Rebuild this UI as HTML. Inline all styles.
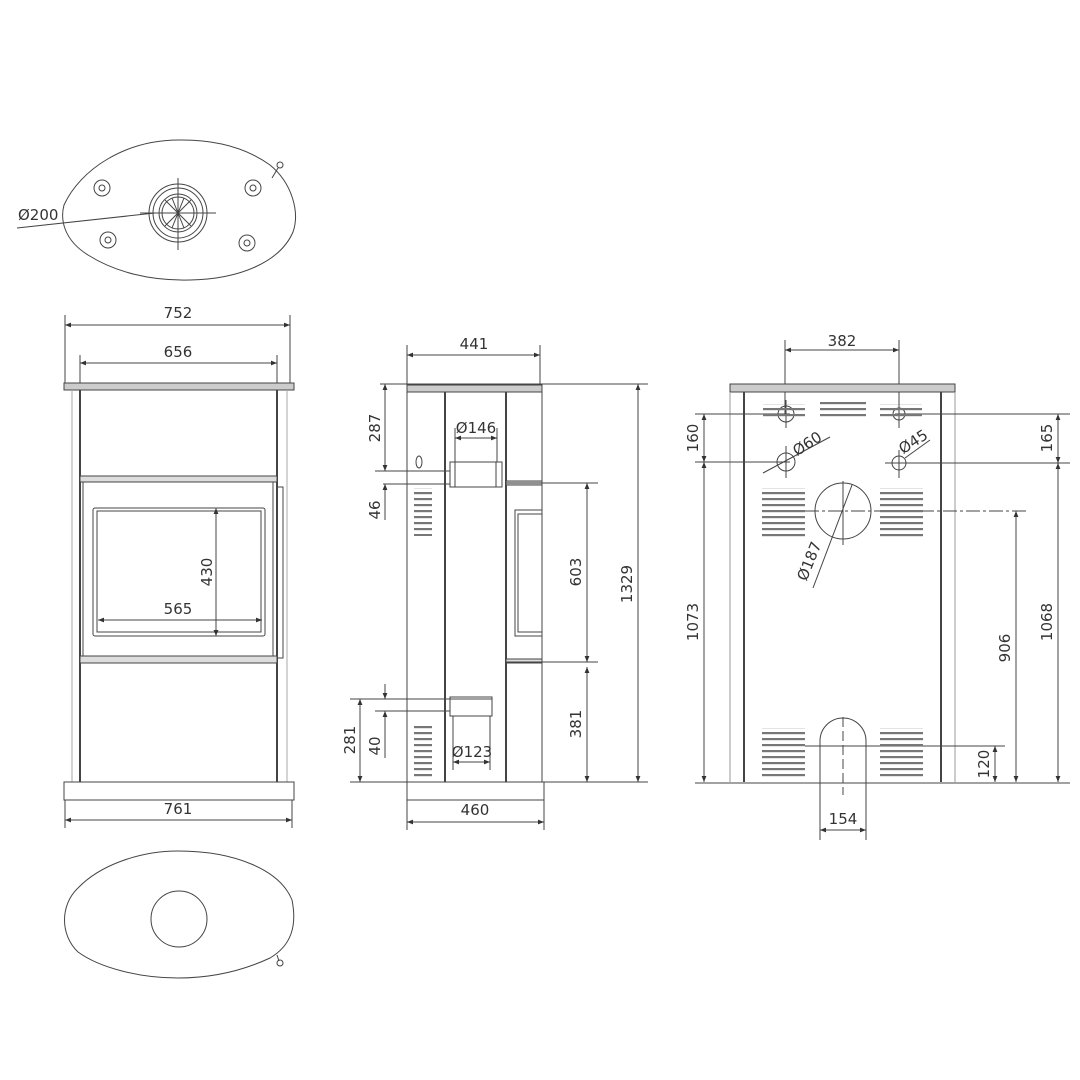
<!DOCTYPE html>
<html><head><meta charset="utf-8"><style>
html,body{margin:0;padding:0;background:#fff;}
svg{display:block;}
text{font-family:"DejaVu Sans","Liberation Sans",sans-serif;font-size:15px;fill:#333;}
</style></head><body>
<svg width="1080" height="1080" viewBox="0 0 1080 1080" xmlns="http://www.w3.org/2000/svg">
<defs>
<marker id="a" viewBox="0 0 10 10" refX="10" refY="5" markerWidth="8" markerHeight="6" orient="auto-start-reverse"><path d="M0,1 L10,5 L0,9 z" fill="#333"/></marker>
<pattern id="v" width="10" height="6" patternUnits="userSpaceOnUse"><rect x="0" y="0" width="10" height="2.2" fill="#777"/></pattern>
</defs>
<g fill="none" stroke="#444" stroke-width="1">
<!-- TOP VIEW -->
<path transform="translate(360,0) scale(-1,1)" d="M178,140 C235,139 280,170 296,205 C300,220 296,240 272,255 C245,272 210,281 170,280 C120,279 80,262 67,232 C60,212 68,183 90,165 C115,147 145,140 178,140 Z"/>
<line x1="272" y1="178" x2="278" y2="168"/><circle cx="280" cy="165" r="3"/>
<circle cx="178" cy="213" r="29"/><circle cx="178" cy="213" r="25"/><circle cx="178" cy="213" r="19"/><circle cx="178" cy="213" r="16"/>
<line x1="178" y1="178" x2="178" y2="250"/><line x1="140" y1="213" x2="216" y2="213"/>
<line x1="165" y1="200" x2="191" y2="226"/><line x1="191" y1="200" x2="165" y2="226"/><line x1="172" y1="198" x2="184" y2="228"/><line x1="184" y1="198" x2="172" y2="228"/>
<circle cx="102" cy="188" r="8"/><circle cx="102" cy="188" r="3"/>
<circle cx="253" cy="188" r="8"/><circle cx="253" cy="188" r="3"/>
<circle cx="108" cy="240" r="8"/><circle cx="108" cy="240" r="3"/>
<circle cx="247" cy="243" r="8"/><circle cx="247" cy="243" r="3"/>
<line x1="17" y1="228" x2="155" y2="213"/>
<!-- FRONT VIEW -->
<line x1="65" y1="315" x2="65" y2="385"/><line x1="290" y1="315" x2="290" y2="385"/>
<line x1="65" y1="325" x2="290" y2="325" marker-start="url(#a)" marker-end="url(#a)"/>
<line x1="80" y1="355" x2="80" y2="390"/><line x1="277" y1="355" x2="277" y2="390"/>
<line x1="80" y1="363" x2="277" y2="363" marker-start="url(#a)" marker-end="url(#a)"/>
<rect x="64" y="383" width="230" height="7" fill="#ccc"/>
<line x1="80" y1="390" x2="80" y2="782" stroke-width="2"/><line x1="277" y1="390" x2="277" y2="782" stroke-width="2"/>
<line x1="72" y1="390" x2="72" y2="782" stroke="#aaa"/><line x1="287" y1="390" x2="287" y2="782" stroke="#aaa"/>
<rect x="80" y="476" width="197" height="6" fill="#ddd"/>
<rect x="83" y="482" width="190" height="177"/>
<rect x="93" y="508" width="172" height="128" rx="2"/><rect x="97" y="511" width="164" height="121"/>
<rect x="277" y="487" width="6" height="171"/>
<rect x="80" y="656" width="197" height="7" fill="#ddd"/>
<line x1="98" y1="620" x2="262" y2="620" marker-start="url(#a)" marker-end="url(#a)"/>
<line x1="216" y1="508" x2="216" y2="636" marker-start="url(#a)" marker-end="url(#a)"/>
<rect x="64" y="782" width="230" height="18"/>
<line x1="65" y1="800" x2="65" y2="828"/><line x1="292" y1="800" x2="292" y2="828"/>
<line x1="65" y1="820" x2="292" y2="820" marker-start="url(#a)" marker-end="url(#a)"/>
<!-- BOTTOM VIEW -->
<path d="M178,851 C235,851 280,870 292,900 C297,925 292,945 270,958 C240,972 210,978 178,978 C140,978 100,968 78,952 C60,935 60,905 78,888 C100,865 140,851 178,851 Z"/>
<circle cx="179" cy="919" r="28"/>
<line x1="277" y1="955" x2="279" y2="961"/><circle cx="280" cy="963" r="3"/>
<!-- SIDE VIEW -->
<line x1="407" y1="345" x2="407" y2="385"/><line x1="540" y1="345" x2="540" y2="385"/>
<line x1="407" y1="355" x2="540" y2="355" marker-start="url(#a)" marker-end="url(#a)"/>
<rect x="407" y="385" width="135" height="7" fill="#ccc"/>
<line x1="407" y1="392" x2="407" y2="782"/><line x1="445" y1="392" x2="445" y2="782" stroke-width="2"/>
<line x1="506" y1="392" x2="506" y2="782" stroke-width="2"/><line x1="542" y1="392" x2="542" y2="782"/>
<ellipse cx="419" cy="462" rx="3" ry="6"/>
<rect x="450" y="462" width="52" height="25"/><line x1="455" y1="462" x2="455" y2="487"/><line x1="496" y1="462" x2="496" y2="487"/>
<line x1="455" y1="428" x2="455" y2="462"/><line x1="497" y1="428" x2="497" y2="462"/>
<line x1="455" y1="438" x2="497" y2="438" marker-start="url(#a)" marker-end="url(#a)"/>
<rect x="506" y="481" width="36" height="4" fill="#ddd"/>
<rect x="515" y="510" width="27" height="126"/><rect x="518" y="514" width="24" height="118"/>
<rect x="506" y="659" width="36" height="4" fill="#ddd"/>
<rect x="450" y="697" width="42" height="19"/>
<line x1="453" y1="716" x2="453" y2="770"/><line x1="490" y1="716" x2="490" y2="770"/>
<line x1="453" y1="762" x2="490" y2="762" marker-start="url(#a)" marker-end="url(#a)"/>
<rect x="407" y="782" width="137" height="18"/>
<line x1="407" y1="800" x2="407" y2="830"/><line x1="544" y1="800" x2="544" y2="830"/>
<line x1="407" y1="822" x2="544" y2="822" marker-start="url(#a)" marker-end="url(#a)"/>
<line x1="380" y1="384" x2="648" y2="384"/><line x1="375" y1="471" x2="450" y2="471"/><line x1="383" y1="484" x2="450" y2="484"/>
<line x1="506" y1="483" x2="598" y2="483"/><line x1="506" y1="662" x2="598" y2="662"/>
<line x1="350" y1="699" x2="492" y2="699"/><line x1="375" y1="711" x2="450" y2="711"/>
<line x1="350" y1="782" x2="648" y2="782"/>
<line x1="385" y1="384" x2="385" y2="471" marker-start="url(#a)" marker-end="url(#a)"/>
<line x1="385" y1="484" x2="385" y2="520" marker-start="url(#a)"/>
<line x1="385" y1="684" x2="385" y2="699" marker-end="url(#a)"/>
<line x1="385" y1="711" x2="385" y2="758" marker-start="url(#a)"/>
<line x1="360" y1="699" x2="360" y2="782" marker-start="url(#a)" marker-end="url(#a)"/>
<line x1="587" y1="483" x2="587" y2="662" marker-start="url(#a)" marker-end="url(#a)"/>
<line x1="587" y1="667" x2="587" y2="782" marker-start="url(#a)" marker-end="url(#a)"/>
<line x1="638" y1="384" x2="638" y2="782" marker-start="url(#a)" marker-end="url(#a)"/>
<!-- REAR VIEW -->
<line x1="785" y1="340" x2="785" y2="414"/><line x1="899" y1="340" x2="899" y2="414"/>
<line x1="785" y1="350" x2="899" y2="350" marker-start="url(#a)" marker-end="url(#a)"/>
<rect x="730" y="384" width="225" height="8" fill="#ccc"/>
<line x1="730" y1="392" x2="730" y2="782" stroke="#999"/><line x1="955" y1="392" x2="955" y2="782" stroke="#999"/>
<line x1="744" y1="392" x2="744" y2="782" stroke-width="2"/><line x1="941" y1="392" x2="941" y2="782" stroke-width="2"/>
<circle cx="786" cy="414" r="8"/><circle cx="786" cy="462" r="9"/>
<circle cx="899" cy="414" r="6"/><circle cx="899" cy="463" r="7"/>
<line x1="786" y1="400" x2="786" y2="428"/><line x1="786" y1="446" x2="786" y2="478"/>
<line x1="899" y1="400" x2="899" y2="428"/><line x1="899" y1="450" x2="899" y2="478"/>
<line x1="763" y1="473" x2="830" y2="437"/><line x1="905" y1="458" x2="930" y2="440"/>
<circle cx="843" cy="511" r="28"/>
<line x1="843" y1="481" x2="843" y2="545"/><line x1="805" y1="511" x2="1028" y2="511" stroke-dasharray="14,3,3,3"/>
<line x1="813" y1="588" x2="852" y2="485"/>
<path d="M820,782 L820,741 A23,23 0 0 1 866,741 L866,782"/>
<line x1="843" y1="717" x2="843" y2="795" stroke-dasharray="10,4"/>
<line x1="805" y1="746" x2="1005" y2="746"/>
<line x1="695" y1="783" x2="1070" y2="783"/>
<line x1="695" y1="414" x2="790" y2="414"/><line x1="695" y1="462" x2="790" y2="462"/>
<line x1="895" y1="414" x2="1070" y2="414"/><line x1="885" y1="463" x2="1070" y2="463"/>
<line x1="704" y1="414" x2="704" y2="462" marker-start="url(#a)" marker-end="url(#a)"/>
<line x1="704" y1="462" x2="704" y2="782" marker-start="url(#a)" marker-end="url(#a)"/>
<line x1="1058" y1="414" x2="1058" y2="463" marker-start="url(#a)" marker-end="url(#a)"/>
<line x1="1058" y1="463" x2="1058" y2="782" marker-start="url(#a)" marker-end="url(#a)"/>
<line x1="1016" y1="511" x2="1016" y2="782" marker-start="url(#a)" marker-end="url(#a)"/>
<line x1="995" y1="746" x2="995" y2="782" marker-start="url(#a)" marker-end="url(#a)"/>
<line x1="820" y1="782" x2="820" y2="840"/><line x1="866" y1="782" x2="866" y2="840"/>
<line x1="820" y1="830" x2="866" y2="830" marker-start="url(#a)" marker-end="url(#a)"/>
</g>
<g stroke="none" fill="url(#v)">
<rect x="414" y="488" width="18" height="48"/><rect x="414" y="726" width="18" height="52"/>
<rect x="763" y="404" width="42" height="16"/><rect x="820" y="401" width="46" height="16"/><rect x="880" y="404" width="42" height="16"/>
<rect x="762" y="488" width="43" height="50"/><rect x="880" y="488" width="43" height="50"/>
<rect x="762" y="728" width="43" height="50"/><rect x="880" y="728" width="43" height="50"/>
</g>
<text x="18" y="220">Ø200</text>
<text x="178" y="318" text-anchor="middle">752</text>
<text x="178" y="357" text-anchor="middle">656</text>
<text x="178" y="614" text-anchor="middle">565</text>
<text transform="translate(212,572) rotate(-90)" text-anchor="middle">430</text>
<text x="178" y="814" text-anchor="middle">761</text>
<text x="474" y="349" text-anchor="middle">441</text>
<text x="476" y="433" text-anchor="middle">Ø146</text>
<text x="472" y="757" text-anchor="middle">Ø123</text>
<text x="475" y="815" text-anchor="middle">460</text>
<text transform="translate(380,428) rotate(-90)" text-anchor="middle">287</text>
<text transform="translate(380,510) rotate(-90)" text-anchor="middle">46</text>
<text transform="translate(355,740) rotate(-90)" text-anchor="middle">281</text>
<text transform="translate(380,746) rotate(-90)" text-anchor="middle">40</text>
<text transform="translate(581,572) rotate(-90)" text-anchor="middle">603</text>
<text transform="translate(581,724) rotate(-90)" text-anchor="middle">381</text>
<text transform="translate(632,584) rotate(-90)" text-anchor="middle">1329</text>
<text x="842" y="346" text-anchor="middle">382</text>
<text transform="translate(698,438) rotate(-90)" text-anchor="middle">160</text>
<text transform="translate(698,622) rotate(-90)" text-anchor="middle">1073</text>
<text transform="translate(1052,438) rotate(-90)" text-anchor="middle">165</text>
<text transform="translate(1052,622) rotate(-90)" text-anchor="middle">1068</text>
<text transform="translate(1010,648) rotate(-90)" text-anchor="middle">906</text>
<text transform="translate(989,764) rotate(-90)" text-anchor="middle">120</text>
<text x="843" y="824" text-anchor="middle">154</text>
<text transform="translate(810,448) rotate(-33)" text-anchor="middle">Ø60</text>
<text transform="translate(916,446) rotate(-33)" text-anchor="middle">Ø45</text>
<text transform="translate(814,563) rotate(-68)" text-anchor="middle">Ø187</text>
</svg>
</body></html>
